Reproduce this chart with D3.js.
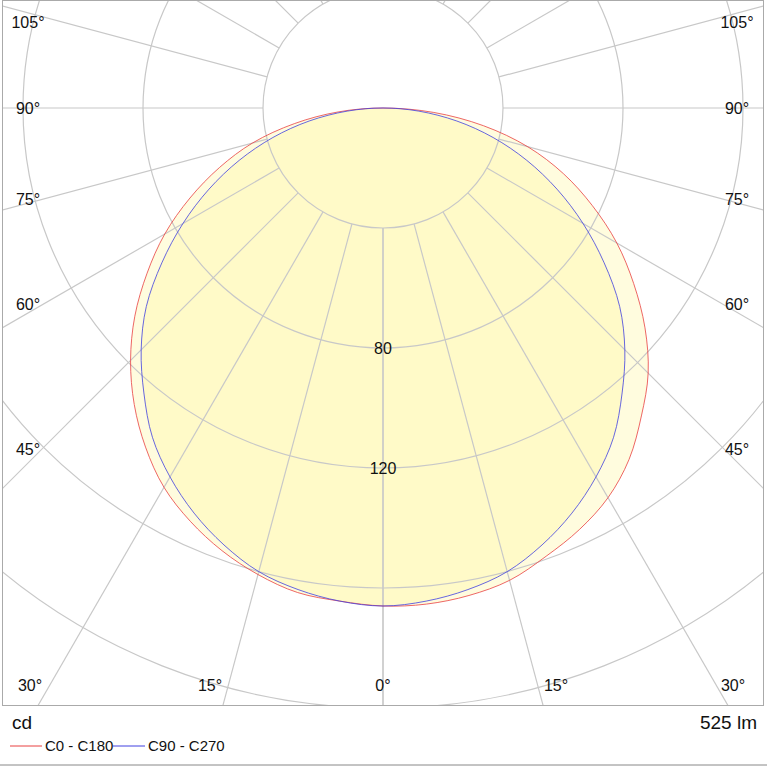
<!DOCTYPE html>
<html><head><meta charset="utf-8">
<script src="https://cdn.jsdelivr.net/npm/d3@7"></script>
<style>body{margin:0;background:#fff}text{font-family:"Liberation Sans",Arial,sans-serif;fill:#111}</style>
</head><body><svg id="c" width="767" height="767"></svg>
<script>
// angles measured from nadir, values in cd
let angles = [0, 5, 10, 15, 20, 25, 30, 35, 40, 45, 50, 55, 60, 65, 70, 75, 80, 85, 90];
let c0 = [166, 166, 165, 163, 159, 155, 150, 143, 134, 125, 114, 102, 90, 77, 64, 50, 34, 17, 0];     // C0 side (right)
let c180 = [166, 165, 164, 161, 157, 152, 146, 138, 129, 119, 108, 96, 84, 71, 58, 45, 30, 15, 0];  // C180 side (left)
let c90 = [166, 165, 163, 160, 155, 149, 142, 134, 124, 114, 103, 90, 77, 64, 51, 38, 25, 12, 0];   // C90 / C270
let rings = [40, 80, 120, 160, 200, 240];
let ringLabels = [80, 120];
let rayAngles = [0, 15, 30, 45, 60, 75, 90, 105, 120, 135, 150, 165, 180];
let labelAngles = [0, 15, 30, 45, 60, 75, 90, 105];

let svg = d3.select('#c');
let cx = 383, cy = 108;
let r = d3.scaleLinear().domain([0, 160]).range([0, 480]);

svg.append('clipPath').attr('id', 'clip').append('rect').attr('x', 2).attr('y', 0).attr('width', 761).attr('height', 705);
let g = svg.append('g').attr('clip-path', 'url(#clip)');
let plot = g.append('g').attr('transform', `translate(${cx},${cy})`);

// polar point: angle a from nadir, side s = +1 right, -1 left
let pt = (a, v, s) => [s * r(v) * Math.sin(a * Math.PI / 180), r(v) * Math.cos(a * Math.PI / 180)];

function shape(right, left) {
  let pts = [];
  angles.forEach((a, i) => pts.push(pt(a, right[i], 1)));
  for (let i = angles.length - 2; i > 0; i--) pts.push(pt(angles[i], left[i], -1));
  return d3.line().curve(d3.curveCatmullRomClosed)(pts);
}

plot.append('path').attr('d', shape(c0, c180)).attr('fill', '#fff5a0').attr('fill-opacity', 0.35);
plot.append('path').attr('d', shape(c90, c90)).attr('fill', '#fff5a0').attr('fill-opacity', 0.35);

// grid
rings.forEach(v => plot.append('circle').attr('r', r(v)).attr('fill', 'none').attr('stroke', '#c8c8c8').attr('stroke-width', 1.2));
rayAngles.forEach(a => [1, -1].forEach(s => {
  let p0 = pt(a, 40, s), p1 = pt(a, 400, s);
  plot.append('line').attr('x1', p0[0]).attr('y1', p0[1]).attr('x2', p1[0]).attr('y2', p1[1]).attr('stroke', '#c8c8c8').attr('stroke-width', 1.2);
}));

plot.append('path').attr('d', shape(c0, c180)).attr('fill', 'none').attr('stroke', '#e84040').attr('stroke-width', 0.8);
plot.append('path').attr('d', shape(c90, c90)).attr('fill', 'none').attr('stroke', '#4040e0').attr('stroke-width', 0.8);

ringLabels.forEach(v => plot.append('text').attr('x', 0).attr('y', r(v)).attr('dy', '0.35em').attr('text-anchor', 'middle').style('font-size', '16px').text(v));

// angle labels along border
labelAngles.forEach(a => [1, -1].forEach(s => {
  if (a === 0 && s === -1) return;
  let rad = a * Math.PI / 180;
  let x, y;
  if (a <= 30) {
    y = 685;
    x = a === 0 ? cx : a === 15 ? cx + s * 173 : (s > 0 ? 733 : 30);
  } else {
    x = s > 0 ? 737 : 28;
    y = Math.max(22, cy + 341 * Math.cos(rad) / Math.sin(rad));
  }
  svg.append('text').attr('x', x).attr('y', y).attr('dy', '0.35em').attr('text-anchor', 'middle').style('font-size', '16px').text(a + '°');
}));

svg.append('rect').attr('x', 2.5).attr('y', 0.5).attr('width', 761).attr('height', 705).attr('fill', 'none').attr('stroke', '#aaa');
svg.append('line').attr('x1', 0).attr('x2', 767).attr('y1', 765).attr('y2', 765).attr('stroke', '#888');

svg.append('text').attr('x', 12).attr('y', 729).style('font-size', '19px').text('cd');
svg.append('text').attr('x', 757).attr('y', 729).attr('text-anchor', 'end').style('font-size', '19px').text('525 lm');
let legend = [['C0 - C180', '#e84040', 10], ['C90 - C270', '#4040e0', 113]];
legend.forEach(d => {
  svg.append('line').attr('x1', d[2]).attr('x2', d[2] + 32).attr('y1', 746).attr('y2', 746).attr('stroke', d[1]);
  svg.append('text').attr('x', d[2] + 35).attr('y', 751).style('font-size', '15px').text(d[0]);
});
</script></body></html>
